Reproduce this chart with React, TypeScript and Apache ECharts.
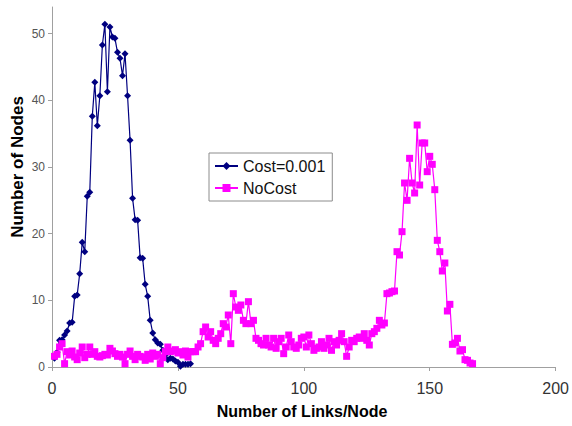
import React, { useEffect, useRef } from "react";
import * as echarts from "echarts";

const costX: number[] = [
  1, 2, 3, 4, 5, 6, 7, 8, 9, 10, 11, 12, 13, 14, 15, 16, 17, 18, 19, 20,
  21, 22, 23, 24, 25, 26, 27, 28, 29, 30, 31, 32, 33, 34, 35, 36, 37, 38, 39, 40,
  41, 42, 43, 44, 45, 46, 47, 48, 49, 50, 51, 52, 53, 54, 55,
];
const costY: number[] = [
  1.3, 2.2, 4.0, 4.1, 4.8, 5.4, 6.6, 6.7, 10.6, 10.8, 14.0, 18.7, 17.3, 25.6, 26.2, 37.6, 42.7, 36.2, 40.7, 48.3,
  51.4, 41.3, 51.0, 49.5, 49.3, 47.2, 46.3, 43.7, 47.0, 40.7, 34.0, 25.3, 22.1, 22.0, 16.4, 16.3, 12.4, 10.6, 7.0, 5.1,
  4.1, 3.6, 3.4, 2.5, 1.8, 1.1, 1.3, 1.2, 0.9, 0.7, 0.1, 0.4, 0.4, 0.4, 0.5,
];

const noCostY: number[] = [
  1.6, 1.9, 3.0, 3.5, 0.5, 2.3, 1.8, 2.4, 1.5, 1.1, 2.1, 3.0, 1.4, 1.9, 3.0, 1.9, 2.3, 1.6, 1.5, 1.7,
  1.9, 1.8, 2.8, 2.4, 2.0, 1.6, 1.9, 1.5, 0.5, 1.9, 2.4, 1.6, 1.1, 1.9, 1.6, 1.5, 1.0, 1.9, 1.2, 2.1,
  1.6, 1.9, 0.5, 1.4, 2.3, 3.0, 2.3, 2.4, 2.6, 2.1, 2.3, 1.8, 2.4, 1.5, 2.3, 2.3, 2.3, 3.0, 3.5, 5.3,
  6.0, 4.5, 5.3, 4.0, 3.5, 4.3, 5.0, 6.5, 6.0, 7.8, 3.5, 11.0, 9.0, 8.5, 9.3, 7.0, 6.5, 9.8, 6.5, 7.0,
  4.3, 4.0, 3.5, 3.3, 4.3, 3.3, 3.0, 4.3, 2.8, 3.8, 4.3, 2.0, 3.0, 4.8, 3.8, 3.0, 2.8, 3.3, 4.3, 4.5,
  3.0, 4.8, 3.5, 2.5, 2.8, 3.0, 3.8, 2.8, 3.3, 4.3, 2.5, 3.8, 3.3, 4.0, 5.0, 3.8, 1.6, 3.0, 4.0, 3.8,
  4.3, 4.5, 4.3, 5.0, 4.0, 3.3, 5.0, 5.3, 5.8, 7.0, 6.3, 6.6, 11.0, 11.1, 11.3, 11.4, 17.3, 16.8, 20.3, 27.6,
  25.0, 31.3, 27.6, 26.1, 36.3, 27.3, 33.6, 33.6, 29.3, 31.6, 30.4, 26.6, 19.0, 17.3, 14.4, 15.6, 8.4, 9.4, 3.4, 3.6,
  4.3, 2.4, 2.6, 1.1, 1.0, 0.6, 0.5,
];
const noCostStartX = 1;

const xTicks: number[] = [0, 50, 100, 150, 200];
const yTicks: number[] = [0, 10, 20, 30, 40, 50];

const seriesNames = ["Cost=0.001", "NoCost"];
const xTitle = "Number of Links/Node";
const yTitle = "Number of Nodes";

const FONT = "'Liberation Sans', Arial, sans-serif";

export default function App() {
  const ref = useRef<HTMLDivElement>(null);
  useEffect(() => {
    if (!ref.current) return;
    const chart = echarts.init(ref.current, null, { renderer: "svg" });
    const costData = costX.map((x, i) => [x, costY[i]]);
    const noCostData = noCostY.map((y, i) => [noCostStartX + i, y]);
    chart.setOption({
      animation: false,
      backgroundColor: "#ffffff",
      grid: { left: 52, right: 12, top: 7, bottom: 59, containLabel: false },
      xAxis: {
        type: "value",
        min: 0,
        max: 200,
        interval: 50,
        splitLine: { show: false },
        axisLine: { lineStyle: { color: "#a0a0a0", width: 1 } },
        axisTick: { show: true, inside: false, length: 4, lineStyle: { color: "#a0a0a0" }, customValues: xTicks },
        axisLabel: { color: "#333333", fontSize: 16, fontFamily: FONT, margin: 13, customValues: xTicks },
      },
      yAxis: {
        type: "value",
        min: 0,
        max: 54,
        interval: 10,
        splitLine: { show: false },
        axisLine: { show: true, lineStyle: { color: "#a0a0a0", width: 1 } },
        axisTick: { show: true, inside: false, length: 4, lineStyle: { color: "#a0a0a0" }, customValues: yTicks },
        axisLabel: { color: "#555555", fontSize: 12, fontFamily: FONT, margin: 7, customValues: yTicks },
      },
      legend: {
        orient: "vertical",
        left: 209,
        top: 153,
        padding: [5, 7, 5, 5],
        itemGap: 6,
        itemWidth: 23,
        itemHeight: 10,
        backgroundColor: "#ffffff",
        borderColor: "#8c8c8c",
        borderWidth: 1,
        textStyle: { fontSize: 16, fontFamily: FONT, color: "#111111" },
        data: seriesNames,
      },
      graphic: [
        {
          type: "text",
          x: 17,
          y: 167,
          rotation: Math.PI / 2,
          style: {
            text: yTitle,
            fontSize: 17,
            fontWeight: "bold",
            fontFamily: FONT,
            fill: "#000000",
            align: "center",
            verticalAlign: "middle",
          },
        },
        {
          type: "text",
          x: 302,
          y: 411,
          style: {
            text: xTitle,
            fontSize: 16,
            fontWeight: "bold",
            fontFamily: FONT,
            fill: "#000000",
            align: "center",
            verticalAlign: "middle",
          },
        },
      ],
      series: [
        {
          name: seriesNames[0],
          type: "line",
          data: costData,
          symbol: "diamond",
          symbolSize: 7,
          showAllSymbol: true,
          lineStyle: { color: "#000080", width: 1.2 },
          itemStyle: { color: "#000080" },
          z: 2,
        },
        {
          name: seriesNames[1],
          type: "line",
          data: noCostData,
          symbol: "rect",
          symbolSize: 7,
          showAllSymbol: true,
          lineStyle: { color: "#ff00ff", width: 1.2 },
          itemStyle: { color: "#ff00ff" },
          z: 3,
        },
      ],
    });
    return () => chart.dispose();
  }, []);
  return (
    <div
      ref={ref}
      style={{ position: "fixed", left: 0, top: 0, width: 572, height: 426 }}
    />
  );
}
